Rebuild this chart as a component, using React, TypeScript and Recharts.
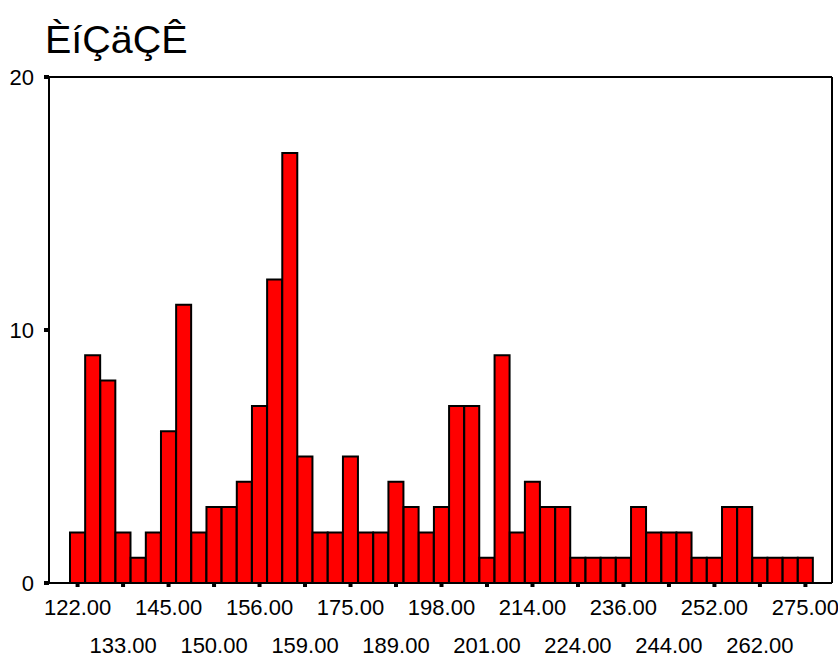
import { BarChart, Bar, XAxis, YAxis, CartesianGrid } from 'recharts';

// frequency per value bin, read left to right
const counts = [
  2, 9, 8, 2, 1, 2, 6, 11, 2, 3, 3, 4, 7, 12, 17, 5, 2, 2, 5, 2, 2, 4, 3, 2, 3,
  7, 7, 1, 9, 2, 4, 3, 3, 1, 1, 1, 1, 3, 2, 2, 2, 1, 1, 3, 3, 1, 1, 1, 1,
];

// bins that carry a label (every third bar) and their labels
const tickBins = [0, 3, 6, 9, 12, 15, 18, 21, 24, 27, 30, 33, 36, 39, 42, 45, 48];
const tickLabels = [
  '122.00', '133.00', '145.00', '150.00', '156.00', '159.00', '175.00', '189.00',
  '198.00', '201.00', '214.00', '224.00', '236.00', '244.00', '252.00', '262.00', '275.00',
];

const yTicks = [0, 10, 20];
const title = 'ÈíÇäÇÊ';

const data = counts.map((count, i) => ({ bin: i, count }));

const FONT = '"Liberation Sans", Arial, sans-serif';

function BinTick({ x, y, payload }: any) {
  const pos = tickBins.indexOf(payload.value);
  if (pos < 0) return null;
  const row = pos % 2;
  return (
    <text
      x={x}
      y={y + row * 38}
      dy="0.71em"
      textAnchor="middle"
      fontSize={22}
      fontFamily={FONT}
      fill="#000"
    >
      {tickLabels[pos]}
    </text>
  );
}

export default function App() {
  return (
    <div style={{ position: 'absolute', left: 0, top: 0, width: 838, height: 657, background: '#fff' }}>
      <div
        style={{
          position: 'absolute',
          left: 45,
          top: 20,
          fontSize: 39.5,
          lineHeight: 1,
          fontFamily: FONT,
          color: '#000',
        }}
      >
        {title}
      </div>
      <BarChart
        width={838}
        height={657}
        data={data}
        margin={{ top: 77, right: 6, left: 0, bottom: 0 }}
        barCategoryGap={0}
        barGap={0}
      >
        {/* top and right edges of the plot frame */}
        <CartesianGrid
          stroke="#000"
          strokeWidth={2}
          horizontalCoordinatesGenerator={({ offset }: any) => [offset.top]}
          verticalCoordinatesGenerator={({ offset }: any) => [offset.left + offset.width]}
        />
        <XAxis
          dataKey="bin"
          ticks={tickBins}
          interval={0}
          height={74}
          padding={{ left: 21, right: 19 }}
          axisLine={{ stroke: '#000', strokeWidth: 2 }}
          tickLine={{ stroke: '#000', strokeWidth: 4 }}
          tickSize={4}
          tickMargin={12.5}
          tick={<BinTick />}
        />
        <YAxis
          domain={[0, 20]}
          ticks={yTicks}
          width={49}
          axisLine={{ stroke: '#000', strokeWidth: 2 }}
          tickLine={{ stroke: '#000', strokeWidth: 4 }}
          tickSize={5}
          tickMargin={10}
          tick={{ fontSize: 22, fill: '#000', fontFamily: FONT }}
        />
        <Bar dataKey="count" fill="#ff0000" stroke="#000" strokeWidth={2} isAnimationActive={false} />
      </BarChart>
    </div>
  );
}
